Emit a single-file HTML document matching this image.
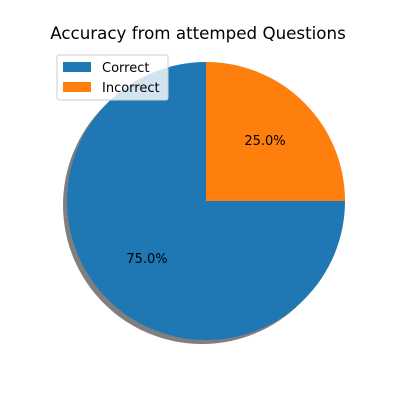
<!DOCTYPE html>
<html><head><meta charset="utf-8"><style>
body{margin:0;background:#fff;}
svg text{font-family:"DejaVu Sans","Liberation Sans",sans-serif;}
</style></head><body>
<svg id="chart" width="400" height="400" viewBox="0 0 400 400">
<rect width="400" height="400" fill="#fff"/>
<text x="198" y="39" font-size="16.7" text-anchor="middle" fill="#000">Accuracy from attemped Questions</text>
<g id="pie"></g>
<g>
<rect x="57" y="55" width="111" height="45" rx="2" fill="#fff" fill-opacity="0.8" stroke="#ccc"/>
<g id="legend-items"></g>
</g>
</svg>
<script>
const categories=["Correct","Incorrect"];
const values=[75,25];
const colors=["#1f77b4","#ff7f0e"];
const cx=206,cy=201,r=139,startAngle=90;
const NS="http://www.w3.org/2000/svg";
const pie=document.getElementById('pie');
const total=values.reduce((a,b)=>a+b,0);
function pt(deg,rad){const a=deg*Math.PI/180;return [cx+rad*Math.cos(a),cy-rad*Math.sin(a)];}
const sh=document.createElementNS(NS,'circle');
sh.setAttribute('cx',cx-4);sh.setAttribute('cy',cy+4);sh.setAttribute('r',r);
sh.setAttribute('fill','#000');sh.setAttribute('fill-opacity','0.5');


pie.appendChild(sh);
let ang=startAngle;
values.forEach((v,i)=>{
  const sweep=v/total*360;
  const [x1,y1]=pt(ang,r),[x2,y2]=pt(ang+sweep,r);
  const p=document.createElementNS(NS,'path');
  p.setAttribute('d',`M${cx},${cy} L${x1},${y1} A${r},${r} 0 ${sweep>180?1:0} 0 ${x2},${y2} Z`);
  p.setAttribute('fill',colors[i]);
  
  
  pie.appendChild(p);
  const [lx,ly]=pt(ang+sweep/2,r*0.6);
  const t=document.createElementNS(NS,'text');
  t.setAttribute('x',lx);t.setAttribute('y',ly+3);t.setAttribute('font-size','13');t.setAttribute('text-anchor','middle');
  t.textContent=(v/total*100).toFixed(1)+'%';
  
  
  pie.appendChild(t);
  ang+=sweep;
});
const lg=document.getElementById('legend-items');
categories.forEach((c,i)=>{
  const y=62+i*20;
  const rc=document.createElementNS(NS,'rect');
  rc.setAttribute('x',63);rc.setAttribute('y',y);rc.setAttribute('width',28);rc.setAttribute('height',10);rc.setAttribute('fill',colors[i]);
  
  
  lg.appendChild(rc);
  const t=document.createElementNS(NS,'text');
  t.setAttribute('x',102);t.setAttribute('y',y+10);t.setAttribute('font-size','13');
  t.textContent=c;
  
  
  lg.appendChild(t);
});
</script>
</body></html>
